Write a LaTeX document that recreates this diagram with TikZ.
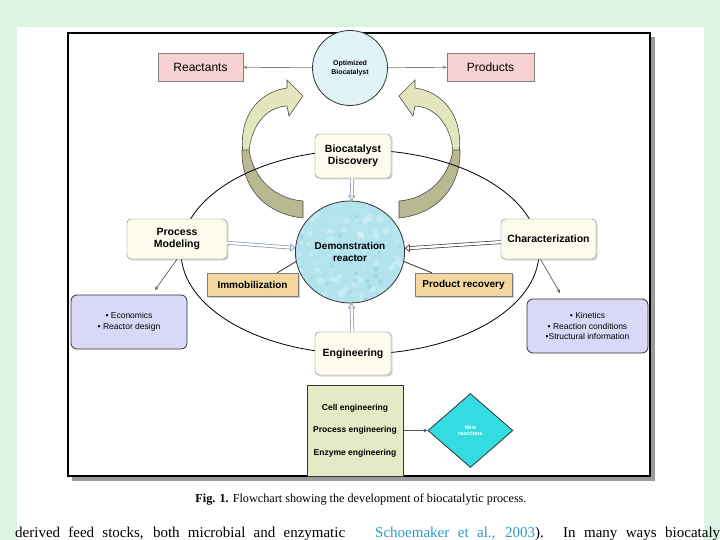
\documentclass[tikz,border=0pt]{standalone}
\usepackage{fontspec}
\setmainfont{Liberation Serif}
\newfontfamily\diagfont{Liberation Sans}
\usepackage{xcolor}
\usepackage{tikz}
\usetikzlibrary{arrows.meta}
\usetikzlibrary{positioning, shapes.geometric, shadows}

\definecolor{pagegreen}{HTML}{DDF4E5}
\definecolor{rosebox}{HTML}{F8D2D2}
\definecolor{creambox}{HTML}{FDFBEE}
\definecolor{skyfill}{HTML}{E0F4F8}
\definecolor{reactorfill}{HTML}{B3E4EE}
\definecolor{tanbox}{HTML}{F3D79E}
\definecolor{lilacbox}{HTML}{D9D9F7}
\definecolor{olivebox}{HTML}{E6E9C6}
\definecolor{cyandiamond}{HTML}{33DCE0}
\definecolor{ribbonlight}{HTML}{E3E6BD}
\definecolor{ribbondark}{HTML}{B8B891}
\definecolor{hollowgray}{HTML}{8494AA}
\definecolor{citeblue}{HTML}{2E9AD0}

\newcommand{\ribbonarrow}{%
  \draw[ribbon, fill=ribbonlight] (244,160) .. controls (236,118) and (258,92) .. (287,88) -- (287,80) -- (303,96) -- (289,116) -- (287,106) .. controls (266,107) and (251,126) .. (249,152) -- cycle;
  \draw[ribbon, fill=ribbondark] (242,150) .. controls (241,186) and (264,214) .. (303,218) -- (303,201) .. controls (277,199) and (254,181) .. (249,150) -- cycle;
}

\begin{document}
\begin{tikzpicture}[x=1pt, y=-1pt, font=\diagfont,
    every node/.style={align=center},
    ribbon/.style={draw=black!70, line width=0.6pt},
    tag/.style={draw=black!50, fill=rosebox, minimum height=28, font=\diagfont\fontsize{12}{14}\selectfont},
    box/.style={draw=black!55, fill=creambox, rounded corners=4pt, font=\diagfont\bfseries\fontsize{10.5}{12.5}\selectfont,
        drop shadow={shadow xshift=1.5pt, shadow yshift=-1.5pt, opacity=0.3}},
    tab/.style={draw=black!50, fill=tanbox, minimum height=23, font=\diagfont\bfseries\fontsize{10}{12}\selectfont,
        drop shadow={shadow xshift=1.5pt, shadow yshift=-1.5pt, opacity=0.4}},
    list/.style={draw=black!80, line width=0.8pt, fill=lilacbox, rounded corners=6pt, font=\diagfont\fontsize{8.5}{10.5}\selectfont},
    hollow/.style={draw=hollowgray, double=white, double distance=2.4pt, line width=0.7pt, -{Triangle[open, length=5pt, width=8pt]}},
    pointer/.style={draw=black!65, line width=0.7pt, -{Stealth[length=4pt, width=3.5pt]}}]
  \fill[pagegreen] (0,0) rectangle (720,540);
  \fill[white] (17,27) rectangle (704,540);
  \useasboundingbox (0,0) rectangle (720,540);
  \fill[black!40] (72,37) rectangle (655,481);
  \draw[line width=1.2pt, fill=white] (68,33) rectangle (650,476);

  \node[circle, draw=black!80, line width=0.8pt, fill=skyfill, minimum size=75, font=\diagfont\bfseries\fontsize{7}{8.5}\selectfont] (opt) at (350,68) {Optimized\\Biocatalyst};
  \node[tag, minimum width=85] (rea) at (200.5,67) {Reactants};
  \node[tag, minimum width=87] (pro) at (490.5,67) {Products};
  \draw[pointer, draw=black!50] (opt) -- (rea);
  \draw[pointer, draw=black!50] (opt) -- (pro);

  \ribbonarrow
  \begin{scope}[xshift=702pt, xscale=-1]
    \ribbonarrow
  \end{scope}
  \draw[line width=0.8pt] (360,252) ellipse [x radius=179, y radius=102];

  \node[box, minimum width=76, minimum height=44] (disc) at (353,156) {Biocatalyst\\Discovery};
  \node[ellipse, draw=black!80, line width=0.8pt, fill=reactorfill, minimum width=104, minimum height=102,
      font=\diagfont\bfseries\fontsize{10}{12}\selectfont,
      path picture={\pgfmathsetseed{11}
        \foreach \k in {1,...,90}{\pgfmathsetmacro\bx{rnd*110-55}\pgfmathsetmacro\by{rnd*106-53}\pgfmathsetmacro\br{1.2+rnd*2.8}
          \fill[white, opacity=0.25] ([shift={(\bx pt,\by pt)}]path picture bounding box.center) circle (\br pt);}
        \foreach \k in {1,...,40}{\pgfmathsetmacro\bx{rnd*110-55}\pgfmathsetmacro\by{rnd*106-53}\pgfmathsetmacro\br{1+rnd*2}
          \fill[cyan!60!blue, opacity=0.12] ([shift={(\bx pt,\by pt)}]path picture bounding box.center) circle (\br pt);}}] (dr) at (350,252) {Demonstration\\reactor};
  \node[box, minimum width=100, minimum height=40] (pm) at (177,239) {Process\\Modeling};
  \node[box, minimum width=95, minimum height=40] (ch) at (548.5,239) {Characterization};
  \node[tab, minimum width=91] (imm) at (252.5,284.5) {Immobilization};
  \node[tab, minimum width=97] (rec) at (463.5,284.5) {Product recovery};
  \node[list, minimum width=116, minimum height=54] (eco) at (129,322) {• Economics\\• Reactor design};
  \node[list, minimum width=121, minimum height=54] (kin) at (587.5,326) {• Kinetics\\• Reaction conditions\\•Structural information};
  \node[box, minimum width=76, minimum height=43] (eng) at (353,353.5) {Engineering};
  \node[draw=black!80, line width=1pt, fill=olivebox, minimum width=96, minimum height=91,
      font=\diagfont\bfseries\fontsize{8.5}{10.5}\selectfont] (ce) at (355,430.5) {Cell engineering\\[12pt]Process engineering\\[12pt]Enzyme engineering};
  \node[diamond, right=24pt of ce, draw=black!80, line width=0.8pt, fill=cyandiamond, minimum width=85, minimum height=74, aspect=1.15,
      inner sep=0pt, text=white, font=\diagfont\bfseries\fontsize{5.5}{6.5}\selectfont] (nr) {New\\reactions};

  \draw[hollow] (disc) -- (dr);
  \draw[hollow] (pm) -- (dr);
  \draw[hollow, draw=black!75] (ch) -- (dr);
  \draw[hollow] (eng) -- (dr);
  \draw[line width=0.8pt, draw=black!80] ([xshift=-21pt]imm.north east) -- (dr.190);
  \draw[line width=0.8pt, draw=black!80] ([xshift=17pt]rec.north west) -- (dr.350);
  \coordinate (e1) at (155,290);
  \coordinate (k1) at (560,293);
  \draw[pointer] (pm.south) -- (e1);
  \draw[pointer] ([xshift=-8pt]ch.south) -- (k1);
  \draw[pointer] (ce) -- (nr);

  \node[font=\fontsize{12.2}{14}\selectfont] (cap) at (361,500) {\textbf{Fig. 1.} Flowchart showing the development of biocatalytic process.};
  \node[anchor=base west, inner sep=0pt, font=\fontsize{15}{17}\selectfont] (txl) at (15,537) {\makebox[330pt][s]{derived feed stocks, both microbial and enzymatic}};
  \node[anchor=base west, inner sep=0pt, font=\fontsize{15}{17}\selectfont] (txr) at (375,537) {\makebox[345pt][s]{\textcolor{citeblue}{Schoemaker et al., 2003}). In many ways biocataly}};
\end{tikzpicture}
\end{document}
